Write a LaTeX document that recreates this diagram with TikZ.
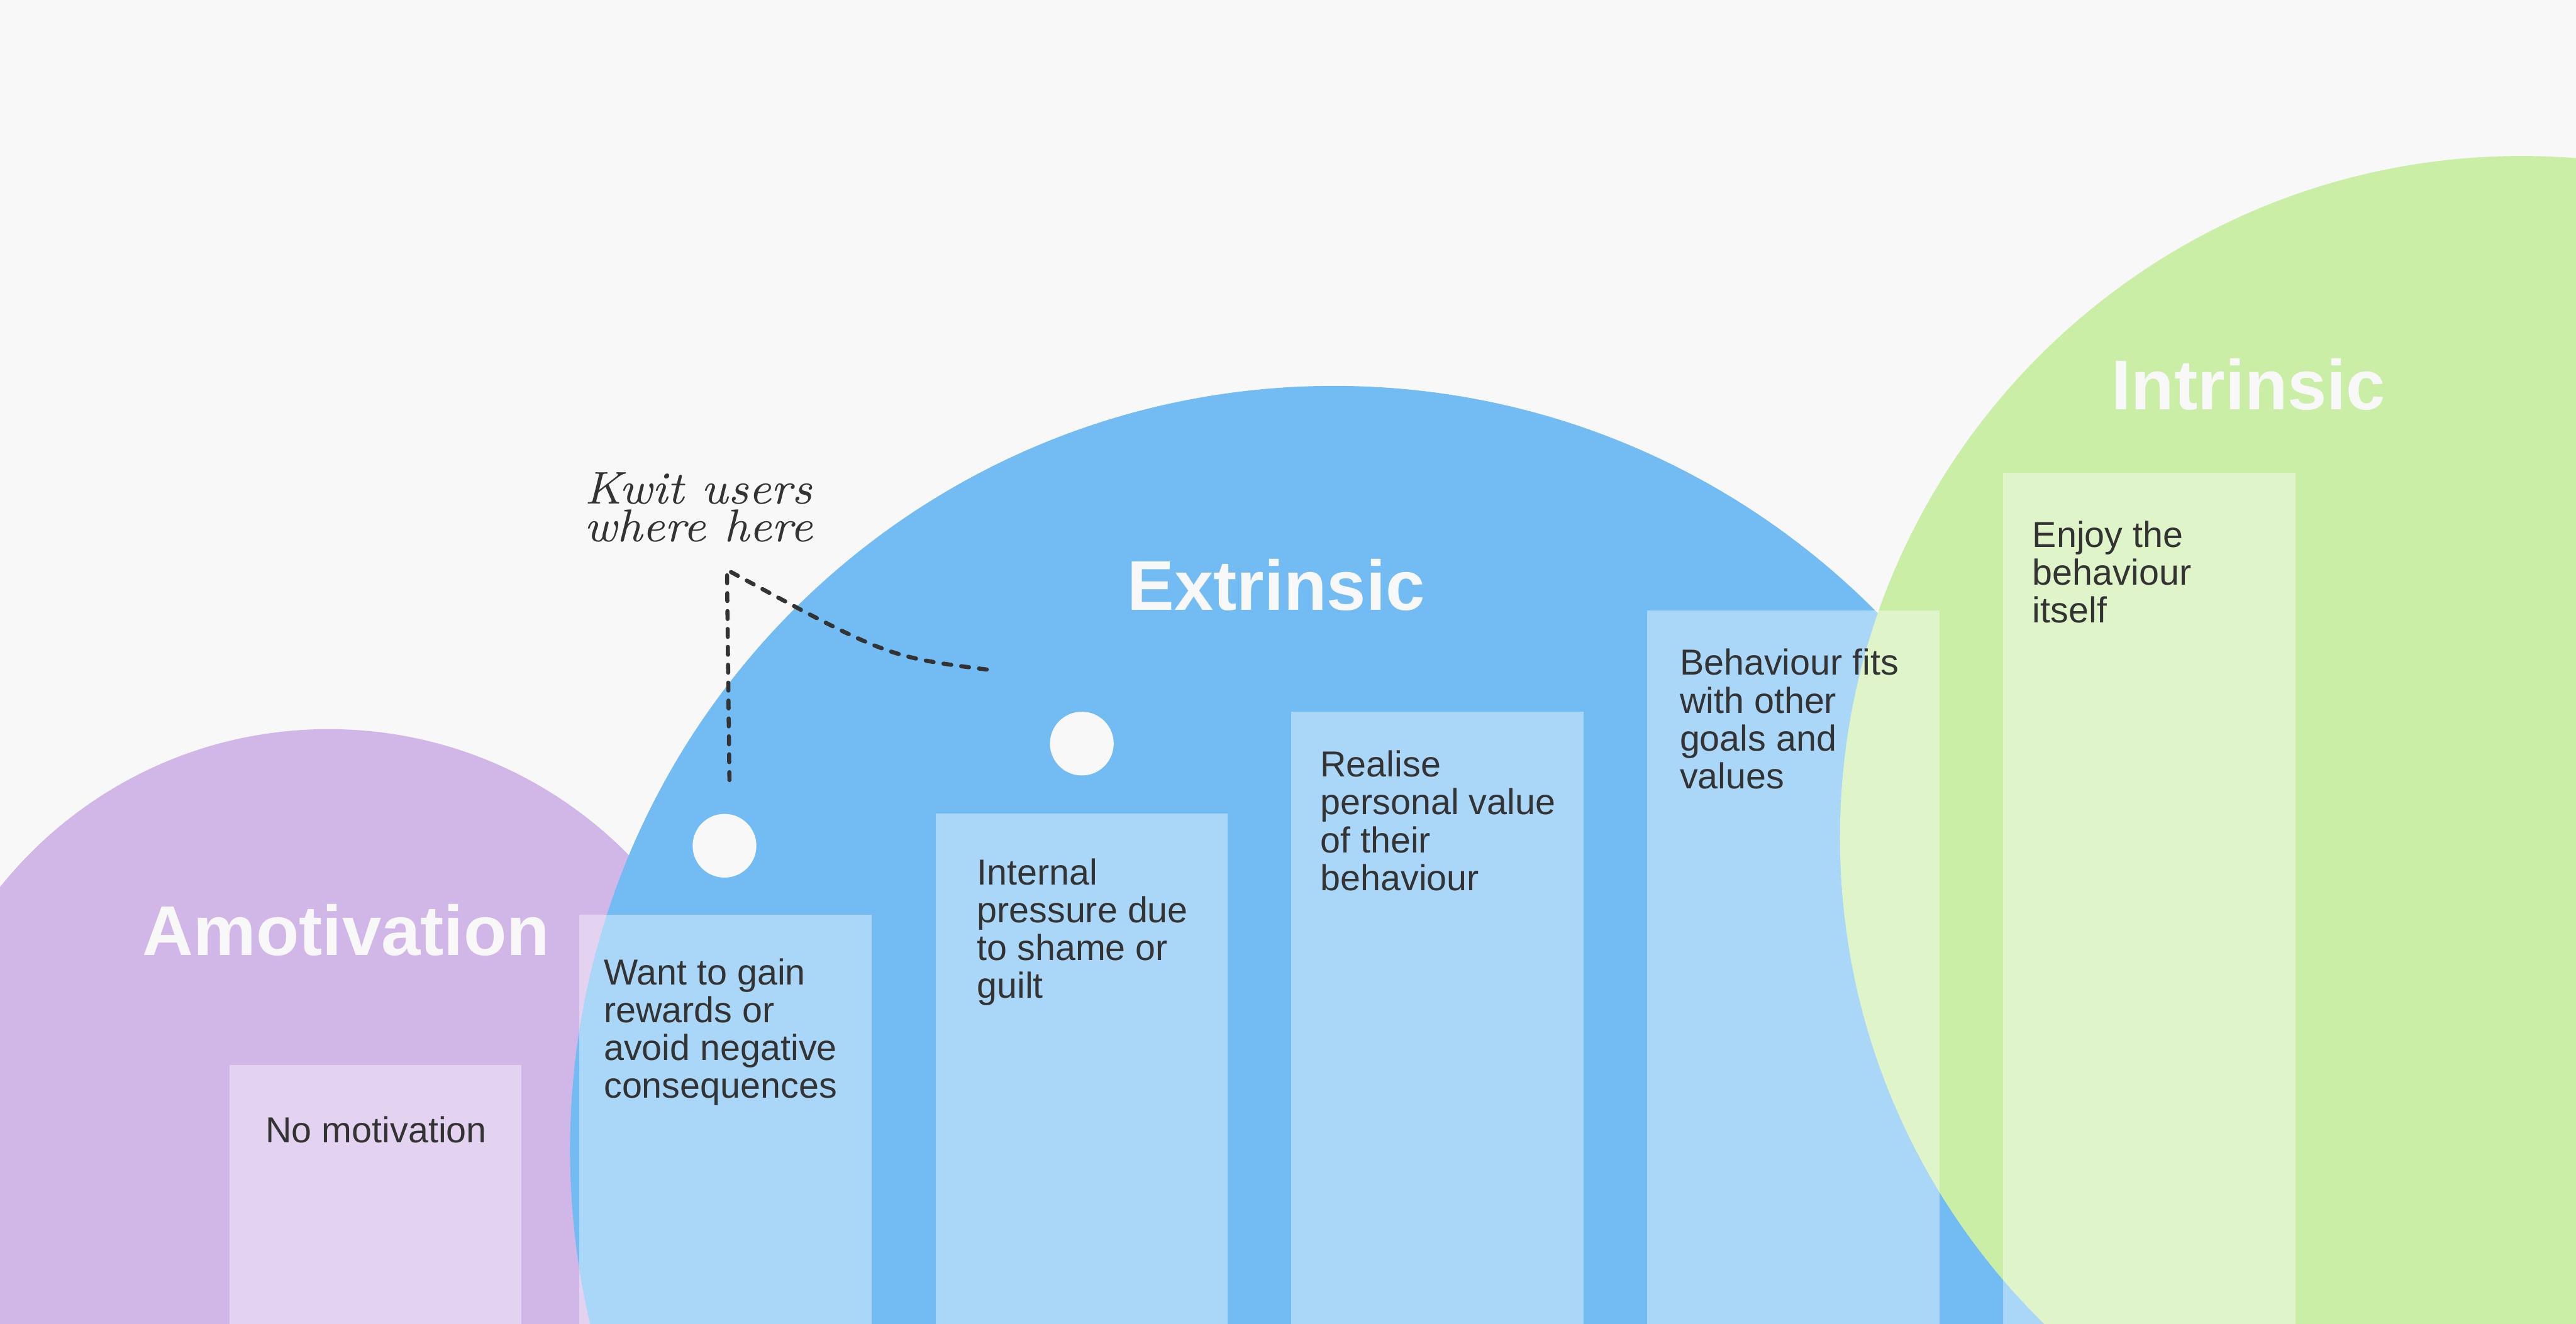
\documentclass[tikz,border=0pt]{standalone}
\usepackage{fontspec}
\setsansfont{Liberation Sans}
\usetikzlibrary{positioning}
\definecolor{bgcolor}{HTML}{F8F8F8}
\definecolor{amocolor}{HTML}{D1B6E8}
\definecolor{extcolor}{HTML}{72BCF3}
\definecolor{intcolor}{HTML}{CAEEA6}
\definecolor{inkcolor}{HTML}{333333}
\tikzset{
  bar/.style     = {fill=white, fill opacity=0.4},
  bartext/.style = {anchor=north west, inner sep=0pt, align=left, text=inkcolor,
                    font=\sffamily\fontsize{6.26}{6.54}\selectfont},
  title/.style   = {anchor=base, inner sep=0pt, text=bgcolor,
                    font=\sffamily\bfseries\fontsize{12.2}{14}\selectfont},
  dot/.style     = {circle, fill=bgcolor, inner sep=0pt, minimum size=3.88mm},
  hand/.style    = {anchor=north west, inner sep=0pt, align=left, text=inkcolor,
                    font=\itshape\fontsize{7.97}{6.54}\selectfont},
  flag/.style    = {draw=inkcolor, line width=0.25mm, line cap=round,
                    dash pattern=on 0.48mm off 0.61mm},
}

\begin{document}
\begin{tikzpicture}[x=0.1mm, y=-0.1mm]
  \useasboundingbox (0,0) rectangle (1568,806);
  \fill[bgcolor] (0,0) rectangle (1568,806);
  \clip (0,0) rectangle (1568,806);
  % circles
  \fill[amocolor] (200,700) circle[radius=256];
  \fill[extcolor] (812,700) circle[radius=465];
  \fill[intcolor] (1535,510) circle[radius=415];
  % bars
  \foreach \x/\y in {139.7/648.5, 352.6/556.9, 569.6/495.5, 786/433.5, 1002.7/371.9, 1219.4/288} {
    \fill[bar] (\x,\y) rectangle ({\x+177.8},820);
  }
  % titles
  \node[title] (amo) at (210.7,581.8) {Amotivation};
  \node[title] (ext) at (776.7,371.7) {Extrinsic};
  \node[title] (int) at (1368.7,249.4) {Intrinsic};
  % bar texts
  \node[bartext] (nomot)   at (161,679)     {No motivation};
  \node[bartext] (reward)  at (366.9,583)   {Want to gain\\rewards or\\avoid negative\\consequences};
  \node[bartext] (shame)   at (594,522)     {Internal\\pressure due\\to shame or\\guilt};
  \node[bartext] (value)   at (803,456.5)   {Realise\\personal value\\of their\\behaviour};
  \node[bartext] (goals)   at (1021.8,394.5) {Behaviour fits\\with other\\goals and\\values};
  \node[bartext] (enjoy)   at (1236.5,316.5) {Enjoy the\\behaviour\\itself};
  % dots and flag
  \node[dot] (kwit) at (441,515) {};
  \node[dot] (next) at (658.5,452.8) {};
  \coordinate (polefoot) at (444,475);
  \coordinate (poletop) at (442.5,347);
  \coordinate (flagend) at (603,408);
  \draw[flag] (polefoot) -- (poletop) .. controls (540,400) .. (flagend);
  \node[hand] (note) at (355,287) {Kwit users\\where here};
\end{tikzpicture}
\end{document}
